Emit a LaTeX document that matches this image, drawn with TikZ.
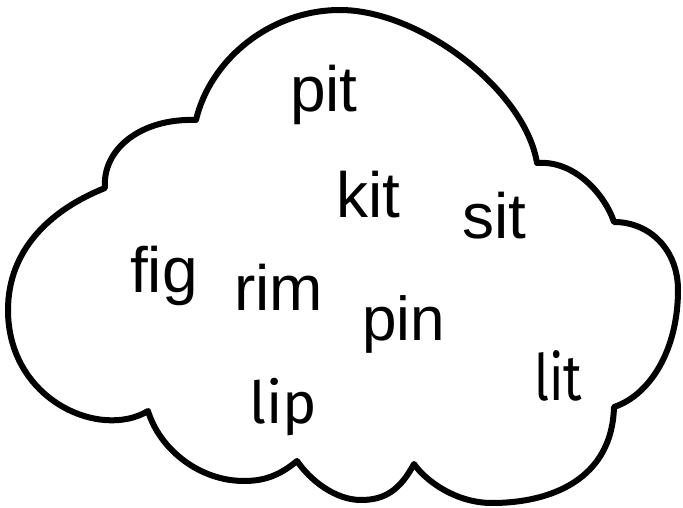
\documentclass[tikz,border=0pt]{standalone}
\usepackage{fontspec}
\setmainfont{Liberation Sans}
\newfontfamily\curlfont{Fira Sans}
\begin{document}
\begin{tikzpicture}[x=1pt,y=-1pt,
  word/.style={anchor=base west,inner sep=0pt,font=\fontsize{64}{64}\selectfont},
  curlword/.style={anchor=base west,inner sep=0pt,font=\curlfont\fontsize{58}{58}\selectfont},
  cloudline/.style={draw=black,fill=white,line width=6pt,line join=round}]
\useasboundingbox (0,0) rectangle (683,508);
\path[cloudline]
  (196,120) .. controls (210,60) and (270,10) .. (340,10)
  .. controls (420,10) and (525,90) .. (537,163)
  .. controls (575,160) and (605,195) .. (614,222)
  .. controls (650,222) and (678,250) .. (678,290)
  .. controls (678,350) and (650,395) .. (614,407)
  .. controls (612,480) and (550,503) .. (492,503)
  .. controls (455,503) and (425,480) .. (414,464)
  .. controls (400,490) and (385,500) .. (361,500)
  .. controls (335,500) and (310,480) .. (297,461)
  .. controls (280,475) and (265,481) .. (244,481)
  .. controls (200,481) and (160,450) .. (148,411)
  .. controls (100,440) and (8,400) .. (8,310)
  .. controls (8,250) and (50,210) .. (105,188)
  .. controls (102,150) and (140,118) .. cycle;
\node[word] (pit) at (290,112) {pit};
\node[word] (kit) at (336,217) {kit};
\node[word] (sit) at (462,238) {sit};
\node[word] (fig) at (130,292) {fig};
\node[word] (rim) at (234,310) {rim};
\node[word,font=\fontsize{62}{62}\selectfont] (pin) at (362,340) {pin};
\node[curlword] (lip) at (249,423) {lip};
\node[curlword,font=\curlfont\fontsize{64}{64}\selectfont] (lit) at (534,400) {\scalebox{0.8}[1]{lit}};
\end{tikzpicture}
\end{document}
